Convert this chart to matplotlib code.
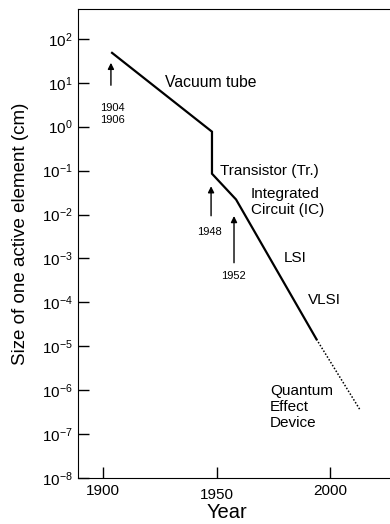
import matplotlib.pyplot as plt

plt.rcParams['font.family'] = ['Liberation Sans', 'DejaVu Sans']
plt.rcParams['mathtext.default'] = 'regular'

# solid trend: vacuum tube -> transistor -> IC -> LSI/VLSI
years = [1904, 1948, 1948, 1958.6, 1994]
sizes = [48, 0.77, 0.085, 0.022, 1.45e-5]
# dotted extrapolation to quantum effect devices
future_years = [1994, 2013]
future_sizes = [1.45e-5, 3.7e-7]
year_ticks = [1900, 1950, 2000]

fig = plt.figure(figsize=(3.9, 5.24), dpi=100)
ax = fig.add_axes([0.2, 0.0878, 0.821, 0.895])

ax.plot(years, sizes, color='black', lw=1.6, solid_joinstyle='miter')
ax.plot(future_years, future_sizes, color='black', lw=1.1, ls=(0, (1, 1.2)))

ax.set_yscale('log')
ax.set_xlim(1889, 2030)
ax.set_ylim(1e-8, 10**2.68)
ax.set_xticks(year_ticks)
ax.set_yticks([10.0**k for k in range(-8, 3)])
ax.minorticks_off()
ax.tick_params(direction='in', length=8, width=1, labelsize=11, pad=4)
ax.xaxis.get_major_ticks()[1].set_pad(7)  # 1950 sits a bit lower in the original
ax.spines['right'].set_visible(False)

ax.set_xlabel('Year', fontsize=14.5)
ax.xaxis.set_label_coords(0.466, -0.053)
ax.set_ylabel('Size of one active element (cm)', fontsize=13.5)
ax.yaxis.set_label_coords(-0.153, 0.52)

arr = dict(arrowstyle='-|>', color='black', lw=1, mutation_scale=9)
ax.annotate('', xy=(1903.5, 33), xytext=(1903.5, 7.6), arrowprops=arr)
ax.annotate('', xy=(1947.6, 0.051), xytext=(1947.6, 0.0081), arrowprops=arr)
ax.annotate('', xy=(1957.7, 0.0107), xytext=(1957.7, 6.9e-4), arrowprops=arr)
ax.text(1904, 1.95, '1904\n1906', ha='center', va='center', fontsize=8)
ax.text(1947, 0.0039, '1948', ha='center', va='center', fontsize=8)
ax.text(1957.5, 3.9e-4, '1952', ha='center', va='center', fontsize=8)

ax.text(1927.3, 10, 'Vacuum tube', ha='left', va='center', fontsize=11.3)
ax.text(1951.5, 0.098, 'Transistor (Tr.)', ha='left', va='center', fontsize=11)
ax.text(1965.2, 0.019, 'Integrated\nCircuit (IC)', ha='left', va='center', fontsize=11)
ax.text(1979.7, 1.05e-3, 'LSI', ha='left', va='center', fontsize=11)
ax.text(1990.3, 1.15e-4, 'VLSI', ha='left', va='center', fontsize=11)
ax.text(1973.6, 4.2e-7, 'Quantum\nEffect\nDevice', ha='left', va='center', fontsize=11)

fig.savefig('out.png', dpi=100)
